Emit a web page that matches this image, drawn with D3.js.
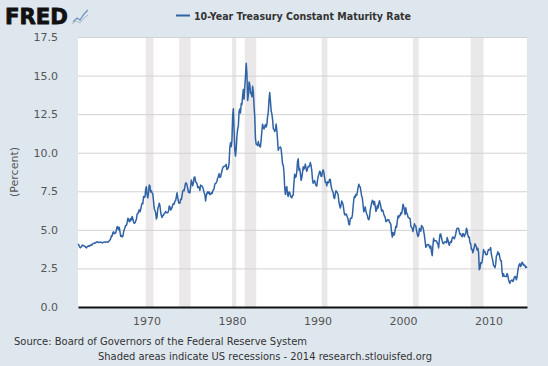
<!DOCTYPE html>
<meta charset="utf-8">
<style>
body { margin: 0; }
text { font-family: "DejaVu Sans", Verdana, sans-serif; }
</style>
<svg width="548" height="366"></svg>
<script src="https://d3js.org/d3.v7.min.js"></script>
<script>

// monthly 10-year treasury rate, jan 1962 onward
var startYear = 1962;
var rates = [
  4.08, 4.04, 3.93, 3.84, 3.87, 3.91, 4.01, 3.98, 3.98, 3.93, 3.92, 3.86,
  3.83, 3.92, 3.93, 3.97, 3.93, 3.99, 4.02, 4.00, 4.08, 4.11, 4.12, 4.13,
  4.17, 4.15, 4.22, 4.23, 4.20, 4.17, 4.19, 4.19, 4.20, 4.19, 4.15, 4.18,
  4.19, 4.21, 4.21, 4.20, 4.21, 4.21, 4.20, 4.25, 4.29, 4.35, 4.45, 4.62,
  4.61, 4.83, 4.87, 4.75, 4.78, 4.81, 5.02, 5.22, 5.18, 5.01, 5.16, 4.84,
  4.58, 4.63, 4.54, 4.59, 4.85, 5.02, 5.16, 5.28, 5.30, 5.48, 5.75, 5.70,
  5.53, 5.56, 5.74, 5.64, 5.87, 5.72, 5.50, 5.42, 5.46, 5.58, 5.70, 6.03,
  6.04, 6.19, 6.30, 6.17, 6.32, 6.57, 6.72, 6.69, 7.16, 7.10, 7.14, 7.65,
  7.79, 7.24, 7.07, 7.39, 7.91, 7.84, 7.46, 7.53, 7.39, 7.33, 6.84, 6.39,
  6.24, 6.11, 5.70, 5.83, 6.39, 6.52, 6.73, 6.58, 6.14, 5.93, 5.81, 5.93,
  5.95, 6.08, 6.07, 6.19, 6.13, 6.11, 6.11, 6.21, 6.55, 6.48, 6.28, 6.36,
  6.46, 6.64, 6.71, 6.67, 6.85, 6.90, 7.13, 7.40, 7.09, 6.79, 6.73, 6.74,
  6.99, 6.96, 7.21, 7.51, 7.58, 7.54, 7.81, 8.04, 8.04, 7.90, 7.68, 7.43,
  7.50, 7.39, 7.73, 8.23, 8.06, 7.86, 8.06, 8.40, 8.43, 8.14, 8.05, 8.00,
  7.74, 7.79, 7.73, 7.56, 7.90, 7.86, 7.83, 7.77, 7.59, 7.41, 7.29, 6.87,
  7.21, 7.39, 7.46, 7.37, 7.46, 7.28, 7.33, 7.40, 7.34, 7.52, 7.58, 7.69,
  7.96, 8.03, 8.04, 8.15, 8.35, 8.46, 8.64, 8.41, 8.42, 8.64, 8.81, 9.01,
  9.10, 9.10, 9.12, 9.18, 9.25, 8.91, 8.95, 9.03, 9.33, 10.30, 10.65, 10.39,
  10.80, 12.41, 12.85, 11.47, 10.18, 9.78, 10.25, 11.10, 11.51, 11.75, 12.68, 12.84,
  12.57, 13.19, 13.12, 13.68, 14.10, 13.47, 14.28, 14.94, 15.80, 15.15, 13.39, 13.72,
  14.59, 14.43, 13.86, 13.87, 13.62, 14.30, 13.95, 13.06, 12.34, 10.91, 10.55, 10.54,
  10.46, 10.72, 10.51, 10.40, 10.38, 10.85, 11.38, 11.85, 11.65, 11.54, 11.69, 11.83,
  11.67, 11.84, 12.32, 12.63, 13.41, 13.90, 13.36, 12.72, 12.52, 12.16, 11.57, 11.50,
  11.38, 11.51, 11.86, 11.43, 10.85, 10.16, 10.31, 10.33, 10.37, 10.24, 9.78, 9.26,
  9.19, 8.70, 7.78, 7.30, 7.71, 7.80, 7.30, 7.17, 7.45, 7.43, 7.25, 7.11,
  7.08, 7.25, 7.25, 8.02, 8.61, 8.40, 8.45, 8.76, 9.42, 9.60, 8.86, 8.99,
  8.67, 8.21, 8.37, 8.72, 9.09, 8.92, 9.06, 9.26, 8.98, 8.80, 8.96, 9.11,
  9.09, 9.17, 9.36, 9.18, 8.86, 8.28, 8.02, 8.11, 8.19, 8.01, 7.87, 7.84,
  8.21, 8.47, 8.59, 8.79, 8.76, 8.48, 8.47, 8.75, 8.89, 8.72, 8.39, 8.08,
  8.09, 7.85, 8.11, 8.04, 8.07, 8.28, 8.27, 7.90, 7.65, 7.53, 7.42, 7.09,
  7.03, 7.34, 7.54, 7.48, 7.39, 7.26, 6.84, 6.59, 6.42, 6.59, 6.87, 6.77,
  6.60, 6.26, 5.98, 5.97, 6.04, 5.96, 5.81, 5.68, 5.36, 5.33, 5.72, 5.77,
  5.75, 5.97, 6.48, 6.97, 7.18, 7.10, 7.30, 7.24, 7.46, 7.74, 7.96, 7.81,
  7.78, 7.47, 7.20, 7.06, 6.63, 6.17, 6.28, 6.49, 6.20, 6.04, 5.93, 5.71,
  5.65, 5.81, 6.27, 6.51, 6.74, 6.91, 6.87, 6.64, 6.83, 6.53, 6.20, 6.30,
  6.58, 6.42, 6.69, 6.89, 6.71, 6.49, 6.22, 6.30, 6.21, 6.03, 5.88, 5.81,
  5.54, 5.57, 5.65, 5.64, 5.65, 5.50, 5.46, 5.34, 4.81, 4.53, 4.83, 4.65,
  4.72, 5.00, 5.23, 5.18, 5.54, 5.90, 5.79, 5.94, 5.92, 6.11, 6.03, 6.28,
  6.66, 6.52, 6.26, 5.99, 6.44, 6.10, 6.05, 5.83, 5.80, 5.74, 5.72, 5.24,
  5.16, 5.10, 4.89, 5.14, 5.39, 5.28, 5.24, 4.97, 4.73, 4.57, 4.65, 5.09,
  5.04, 4.91, 5.28, 5.21, 5.16, 4.93, 4.65, 4.26, 3.87, 3.94, 4.05, 4.03,
  4.05, 3.90, 3.81, 3.96, 3.57, 3.33, 3.98, 4.45, 4.27, 4.29, 4.30, 4.27,
  4.15, 4.08, 3.83, 4.35, 4.72, 4.73, 4.50, 4.28, 4.13, 4.10, 4.19, 4.23,
  4.22, 4.17, 4.50, 4.34, 4.14, 4.00, 4.18, 4.26, 4.20, 4.46, 4.54, 4.47,
  4.42, 4.57, 4.72, 4.99, 5.11, 5.11, 5.09, 4.88, 4.72, 4.73, 4.60, 4.56,
  4.76, 4.72, 4.56, 4.69, 4.75, 5.10, 5.00, 4.67, 4.52, 4.53, 4.15, 4.10,
  3.74, 3.74, 3.51, 3.68, 3.88, 4.10, 4.01, 3.89, 3.69, 3.81, 3.53, 2.42,
  2.52, 2.87, 2.82, 2.93, 3.29, 3.72, 3.56, 3.59, 3.40, 3.39, 3.40, 3.59,
  3.73, 3.69, 3.73, 3.85, 3.42, 3.20, 3.01, 2.70, 2.65, 2.54, 2.76, 3.29,
  3.39, 3.58, 3.41, 3.46, 3.17, 3.00, 3.00, 2.30, 1.98, 2.15, 2.01, 1.98,
  1.97, 1.97, 2.17, 2.05, 1.80, 1.62, 1.53, 1.68, 1.72, 1.75, 1.65, 1.72,
  1.91, 1.98, 1.96, 1.76, 1.93, 2.30, 2.58, 2.74, 2.81, 2.62, 2.72, 2.90,
  2.86, 2.71, 2.72, 2.71, 2.56, 2.60, 2.54
];

var recStart = ["1969-12", "1973-11", "1980-01", "1981-07", "1990-07", "2001-03", "2007-12"];
var recEnd   = ["1970-11", "1975-03", "1980-07", "1982-11", "1991-03", "2001-11", "2009-06"];

var yTicks = [0, 2.5, 5, 7.5, 10, 12.5, 15, 17.5];
var xTicks = [1970, 1980, 1990, 2000, 2010];

var svg = d3.select("svg");

svg.append("rect")
   .attr("width", 548)
   .attr("height", 366)
   .attr("fill", "#dfe7ee");

var plotLeft = 78, plotRight = 527, plotTop = 37, plotBottom = 307;

var parseMonth = d3.timeParse("%Y-%m");
var data = rates.map(function(v, i) {
  return { date: new Date(startYear + Math.floor(i / 12), i % 12, 1), value: v };
});

var x = d3.scaleTime()
          .domain([new Date(1962, 0, 1), new Date(2014, 6, 1)])
          .range([plotLeft, plotRight]);
var y = d3.scaleLinear()
          .domain([0, 17.5])
          .range([plotBottom, plotTop]);

// plot background
svg.append("rect")
   .attr("x", plotLeft)
   .attr("y", plotTop)
   .attr("width", plotRight - plotLeft)
   .attr("height", plotBottom - plotTop)
   .attr("fill", "#ffffff");

// recession shading
svg.append("g")
   .selectAll("rect")
   .data(recStart)
   .enter()
   .append("rect")
   .attr("x", function(d) { return x(parseMonth(d)); })
   .attr("y", plotTop)
   .attr("width", function(d, i) { return x(parseMonth(recEnd[i])) - x(parseMonth(d)); })
   .attr("height", plotBottom - plotTop)
   .attr("fill", "#ebe8ea");

// gridlines + y labels
var yAxis = svg.append("g")
   .attr("transform", "translate(" + plotLeft + ",0)")
   .call(d3.axisLeft(y).tickValues(yTicks).tickSize(-(plotRight - plotLeft)).tickFormat(d3.format(".1f")).tickPadding(20));
yAxis.select(".domain").remove();
yAxis.selectAll(".tick line").attr("stroke", "#d2d2d2");
yAxis.selectAll(".tick text")
     .attr("fill", "#555")
     .attr("font-size", "11px")
     .attr("font-family", "DejaVu Sans, sans-serif");

// x axis
var xAxis = svg.append("g")
   .attr("transform", "translate(0," + plotBottom + ")")
   .call(d3.axisBottom(x).tickValues(xTicks.map(function(d) { return new Date(d, 0, 1); }))
                         .tickSize(0).tickPadding(10).tickFormat(d3.timeFormat("%Y")));
xAxis.select(".domain").attr("stroke", "#111").attr("stroke-width", 2);
xAxis.selectAll(".tick text")
     .attr("fill", "#555")
     .attr("font-size", "11px")
     .attr("font-family", "DejaVu Sans, sans-serif");

// series
var line = d3.line()
             .x(function(d) { return x(d.date); })
             .y(function(d) { return y(d.value); });

svg.append("path")
   .datum(data)
   .attr("fill", "none")
   .attr("stroke", "#3063a5")
   .attr("stroke-width", 1.5)
   .attr("stroke-linejoin", "round")
   .attr("d", line);

// y axis title
svg.append("text")
   .attr("transform", "translate(18,172) rotate(-90)")
   .attr("text-anchor", "middle")
   .attr("font-size", "11px")
   .attr("fill", "#555")
   .text("(Percent)");

// legend
svg.append("line")
   .attr("x1", 176).attr("x2", 190)
   .attr("y1", 15.5).attr("y2", 15.5)
   .attr("stroke", "#3063a5")
   .attr("stroke-width", 2);
svg.append("text")
   .attr("x", 194)
   .attr("y", 20)
   .attr("font-size", "11px")
   .attr("font-weight", "bold")
   .attr("fill", "#333")
   .attr("textLength", 217)
   .attr("lengthAdjust", "spacingAndGlyphs")
   .text("10-Year Treasury Constant Maturity Rate");

// FRED logo
svg.append("text")
   .attr("x", 5)
   .attr("y", 24)
   .attr("font-family", "Liberation Sans, Arial, sans-serif")
   .attr("font-size", "22px")
   .attr("font-weight", "bold")
   .attr("fill", "#111")
   .attr("stroke", "#111")
   .attr("stroke-width", 0.8)
   .attr("textLength", 63)
   .attr("lengthAdjust", "spacingAndGlyphs")
   .text("FRED");
svg.append("polyline")
   .attr("points", "73,22 77,18 80,20 84,14 88,10")
   .attr("fill", "none")
   .attr("stroke", "#6f94c4")
   .attr("stroke-width", 1.3);
svg.append("polyline")
   .attr("points", "72,24 76,21 80,23 84,18 88,15")
   .attr("fill", "none")
   .attr("stroke", "#b0b8c4")
   .attr("stroke-width", 1);

// footer notes
svg.append("text")
   .attr("x", 14)
   .attr("y", 345)
   .attr("font-size", "10.5px")
   .attr("fill", "#333")
   .attr("textLength", 293)
   .attr("lengthAdjust", "spacingAndGlyphs")
   .text("Source: Board of Governors of the Federal Reserve System");
svg.append("text")
   .attr("x", 98)
   .attr("y", 360)
   .attr("font-size", "10.5px")
   .attr("fill", "#333")
   .attr("textLength", 334)
   .attr("lengthAdjust", "spacingAndGlyphs")
   .text("Shaded areas indicate US recessions - 2014 research.stlouisfed.org");

</script>
